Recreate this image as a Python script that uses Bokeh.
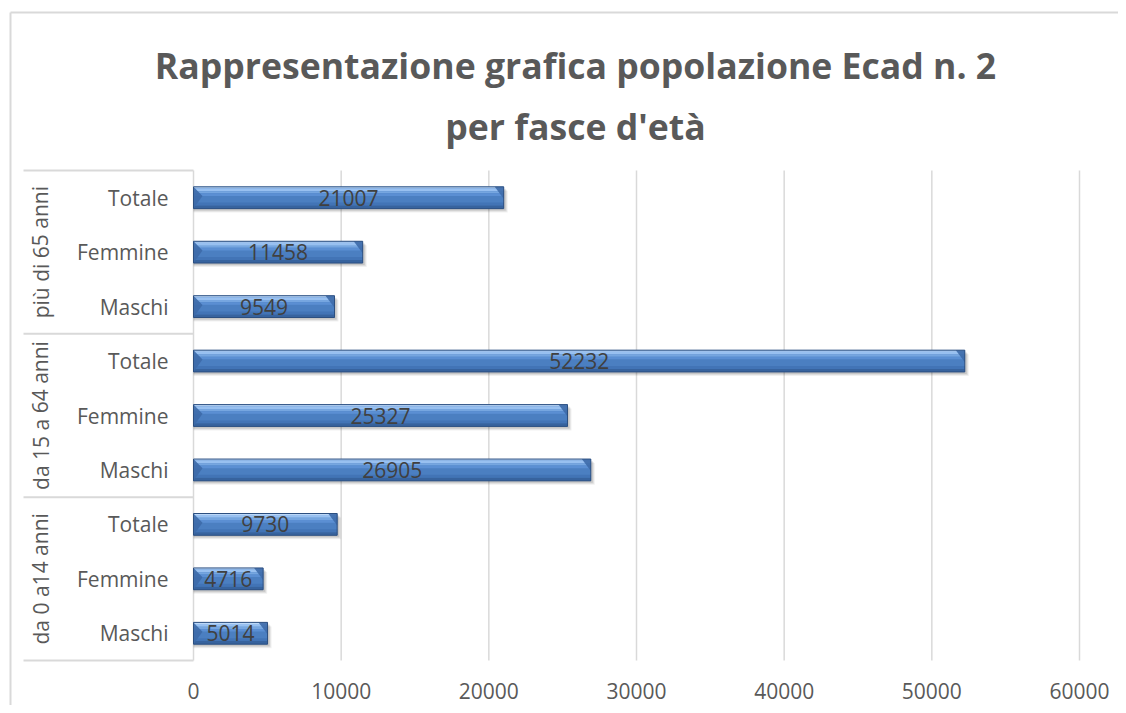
from bokeh.plotting import figure
from bokeh.models import Range1d, ColumnDataSource
from bokeh.core.properties import value
from bokeh.embed import file_html
from bokeh.resources import INLINE

# ---------------- data ----------------
title_lines = ["Rappresentazione grafica popolazione Ecad n. 2", "per fasce d'età"]
groups = ["da 0 a14 anni", "da 15 a 64 anni", "più di 65 anni"]
subcats = ["Maschi", "Femmine", "Totale"]
values_0_14 = [5014, 4716, 9730]
values_15_64 = [26905, 25327, 52232]
values_65 = [9549, 11458, 21007]
x_ticks = [0, 10000, 20000, 30000, 40000, 50000, 60000]

# ---------------- layout helpers ----------------
W, H = 1118, 705
PX0, PX60 = 193.0, 1079.0      # picture x of 0 and 60000
kx = (PX60 - PX0) / 60000.0
PYB, PYT = 660.0, 170.0        # picture y of category band bottom/top
n_rows = len(groups) * len(subcats)
ky = (PYB - PYT) / n_rows

def X(px):
    return (px - PX0) / kx

def Y(py):
    return (PYB - py) / ky

x0 = X(0)
x1 = X(W)
y1 = Y(0)
y0 = Y(H)

p = figure(width=W, height=H, output_backend="svg", toolbar_location=None,
           x_range=Range1d(x0, x1), y_range=Range1d(y0, y1),
           min_border_left=0, min_border_top=0, min_border_right=0, min_border_bottom=0)
p.axis.visible = False
p.grid.visible = False
p.outline_line_color = None
p.background_fill_color = "white"
p.border_fill_color = "white"

GRID = "#d9d9d9"
TXT = "#595959"
FONT = value("Open Sans")

# chart border (left & top)
p.segment(x0=[X(10)], y0=[Y(12)], x1=[X(10)], y1=[y0], line_color=GRID, line_width=2)
p.segment(x0=[X(10)], y0=[Y(12)], x1=[x1], y1=[Y(12)], line_color=GRID, line_width=2)

# vertical gridlines + axis line
gx = x_ticks
p.segment(x0=gx, y0=[0] * len(gx), x1=gx, y1=[n_rows] * len(gx), line_color=GRID, line_width=1.5)

# category box lines
bounds = [i * len(subcats) for i in range(len(groups) + 1)]
p.segment(x0=[X(23)] * len(bounds), y0=bounds, x1=[0] * len(bounds), y1=bounds,
          line_color=GRID, line_width=2)

# ---------------- bars ----------------
all_vals = values_0_14 + values_15_64 + values_65
ys = [i + 0.5 for i in range(n_rows)]
hh = 0.2
px_u = 1.0 / ky  # one pixel in y units
pxx = 1.0 / kx   # one pixel in x units

src = ColumnDataSource(dict(
    y=ys, v=all_vals,
    top=[y + hh for y in ys], bot=[y - hh for y in ys],
    lab=[str(v) for v in all_vals], mid=[v / 2 for v in all_vals],
))

# shadow
for k, a in [(4, 0.06), (3, 0.08), (2, 0.10)]:
    p.quad(left=[0] * n_rows, right=[v + k * pxx for v in all_vals],
           top=[y + hh - k * px_u for y in ys], bottom=[y - hh - k * px_u for y in ys],
           fill_color="black", fill_alpha=a, line_color=None)

# base
p.quad(left=0, right="v", top="top", bottom="bot", source=src,
       fill_color="#4b7fc1", line_color=None)
# gradient layers
layers = [
    (1.00, 0.86, "#bcd8f8"),
    (0.86, 0.60, "#98c0f0"),
    (0.60, 0.40, "#76a6e0"),
    (0.40, 0.16, "#5b8fd3"),
    (-0.45, -0.72, "#4274b6"),
    (-0.72, -1.00, "#37639e"),
]
for t, b, c in layers:
    p.quad(left=[0] * n_rows, right=all_vals,
           top=[y + hh * t for y in ys], bottom=[y + hh * b for y in ys],
           fill_color=c, line_color=None)

# bevel triangles
bw = 9 * pxx
p.patches(xs=[[0, bw, 0] for v in all_vals],
          ys=[[y + hh, y + hh * 0.15, y - hh] for y in ys],
          fill_color="#3d6aa8", fill_alpha=0.9, line_color=None)
p.patches(xs=[[v - bw, v, v] for v in all_vals],
          ys=[[y + hh, y + hh, y - hh * 0.1] for y in ys],
          fill_color="#3d6aa8", fill_alpha=0.9, line_color=None)

# outline
p.quad(left=0, right="v", top="top", bottom="bot", source=src,
       fill_color=None, line_color="#2c4f80", line_width=1)

# value labels
p.text(x="mid", y="y", text="lab", source=src, text_align="center", text_baseline="middle",
       text_font=FONT, text_font_size="21px", text_color="#404040")

# ---------------- axis labels ----------------
sub_labels = subcats * len(groups)
p.text(x=[X(168)] * n_rows, y=ys, text=sub_labels, text_align="right", text_baseline="middle",
       text_font=FONT, text_font_size="21px", text_color=TXT)

gy = [(bounds[i] + bounds[i + 1]) / 2 for i in range(len(groups))]
p.text(x=[X(40)] * len(groups), y=gy, text=groups, angle=1.5708, text_align="center",
       text_baseline="middle", text_font=FONT, text_font_size="21px", text_color=TXT)

p.text(x=x_ticks, y=[Y(690)] * len(x_ticks), text=[str(t) for t in x_ticks],
       text_align="center", text_baseline="middle",
       text_font=FONT, text_font_size="21px", text_color=TXT)

# ---------------- title ----------------
p.text(x=[X(575), X(575)], y=[Y(64), Y(125)], text=title_lines, text_align="center",
       text_baseline="alphabetic", text_font=FONT, text_font_style="bold",
       text_font_size="35.6px", text_color=TXT)

open("out.html", "w").write(file_html(p, INLINE))
